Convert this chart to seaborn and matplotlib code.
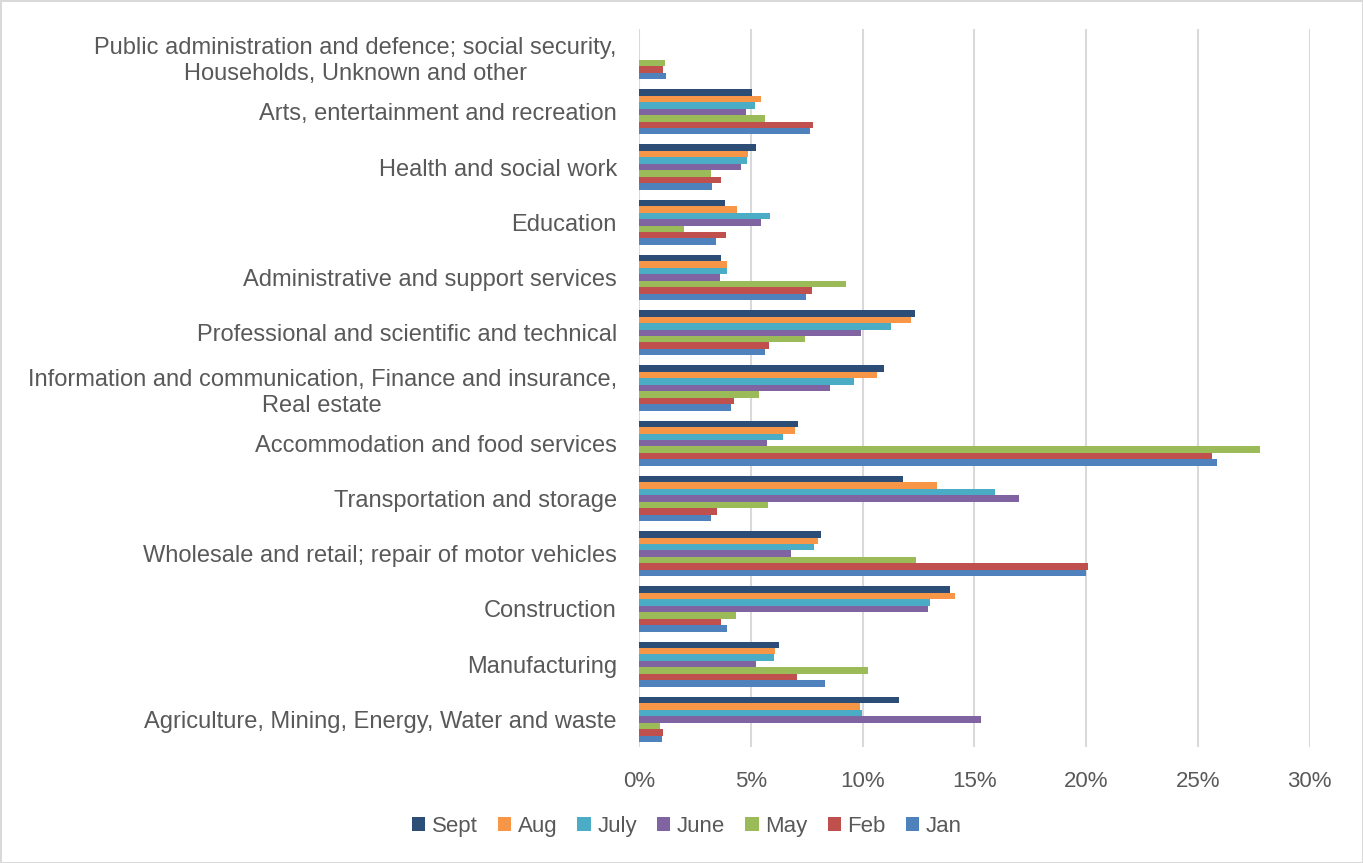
import numpy as np
import pandas as pd
import matplotlib
matplotlib.use("Agg")
import matplotlib.pyplot as plt
from matplotlib.ticker import PercentFormatter
import seaborn as sns

# Sectors, listed top to bottom
sectors = [
    "Public administration and defence; social security,\nHouseholds, Unknown and other",
    "Arts, entertainment and recreation",
    "Health and social work",
    "Education",
    "Administrative and support services",
    "Professional and scientific and technical",
    "Information and communication, Finance and insurance,\nReal estate",
    "Accommodation and food services",
    "Transportation and storage",
    "Wholesale and retail; repair of motor vehicles",
    "Construction",
    "Manufacturing",
    "Agriculture, Mining, Energy, Water and waste",
]

months = ["Sept", "Aug", "July", "June", "May", "Feb", "Jan"]

# Share of total (%) per sector, one list per month
sept = [0.0, 5.04, 5.22, 3.83, 3.65, 12.34, 10.96, 7.13, 11.80, 8.15, 13.90, 6.25, 11.64]
aug  = [0.0, 5.48, 4.88, 4.40, 3.95, 12.15, 10.63, 6.98, 13.34, 8.03, 14.12, 6.07, 9.88]
july = [0.0, 5.18, 4.82, 5.84, 3.92, 11.27, 9.61, 6.45, 15.92, 7.83, 13.03, 6.06, 9.99]
june = [0.0, 4.78, 4.58, 5.46, 3.61, 9.94, 8.55, 5.73, 17.02, 6.79, 12.93, 5.24, 15.28]
may  = [1.17, 5.63, 3.20, 2.02, 9.25, 7.43, 5.39, 27.79, 5.75, 12.40, 4.36, 10.24, 0.94]
feb  = [1.09, 7.77, 3.68, 3.89, 7.72, 5.81, 4.27, 25.63, 3.50, 20.11, 3.67, 7.07, 1.07]
jan  = [1.20, 7.66, 3.28, 3.46, 7.47, 5.64, 4.12, 25.86, 3.20, 19.99, 3.96, 8.33, 1.03]

series = {"Sept": sept, "Aug": aug, "July": july, "June": june,
          "May": may, "Feb": feb, "Jan": jan}

colors = {
    "Sept": "#2C4D75",
    "Aug": "#F79646",
    "July": "#4BACC6",
    "June": "#8064A2",
    "May": "#9BBB59",
    "Feb": "#C0504D",
    "Jan": "#4F81BD",
}

xticks = [0, 5, 10, 15, 20, 25, 30]

rows = []
for m in months:
    for s, v in zip(sectors, series[m]):
        rows.append({"sector": s, "month": m, "share": v})
df = pd.DataFrame(rows)

sns.set_theme(style="white")
plt.rcParams["font.family"] = ["Liberation Sans", "DejaVu Sans"]

text_color = "#595959"
grid_color = "#D9D9D9"

fig = plt.figure(figsize=(13.63, 8.63), dpi=100,
                 edgecolor=grid_color, linewidth=2)
ax = fig.add_axes([0.4688, 0.1344, 0.4920, 0.8320])

sns.barplot(data=df, y="sector", x="share", hue="month",
            order=sectors, hue_order=months, palette=colors,
            orient="h", width=0.82, ax=ax, legend=True,
            edgecolor="none", linewidth=0, saturation=1, errorbar=None)

ax.set_xlim(0, 30)
ax.set_xticks(xticks)
ax.xaxis.set_major_formatter(PercentFormatter(decimals=0))
ax.grid(axis="x", color=grid_color, linewidth=1.5)
ax.set_axisbelow(True)
for sp in ax.spines.values():
    sp.set_visible(False)
ax.set_xlabel("")
ax.set_ylabel("")
ax.tick_params(axis="x", length=0, pad=17, labelsize=16, labelcolor=text_color)
ax.tick_params(axis="y", length=0, pad=16, labelsize=17, labelcolor=text_color)
for lbl in ax.get_yticklabels():
    lbl.set_multialignment("center")
    lbl.set_linespacing(1.25)

handles, labels = ax.get_legend_handles_labels()
ax.get_legend().remove()
leg = fig.legend(handles, labels, loc="center", bbox_to_anchor=(0.504, 0.042),
                 ncol=7, frameon=False, fontsize=16, handlelength=0.6,
                 handleheight=0.6, handletextpad=0.3, columnspacing=0.9)
for t in leg.get_texts():
    t.set_color(text_color)

fig.savefig("out.png", dpi=100)
